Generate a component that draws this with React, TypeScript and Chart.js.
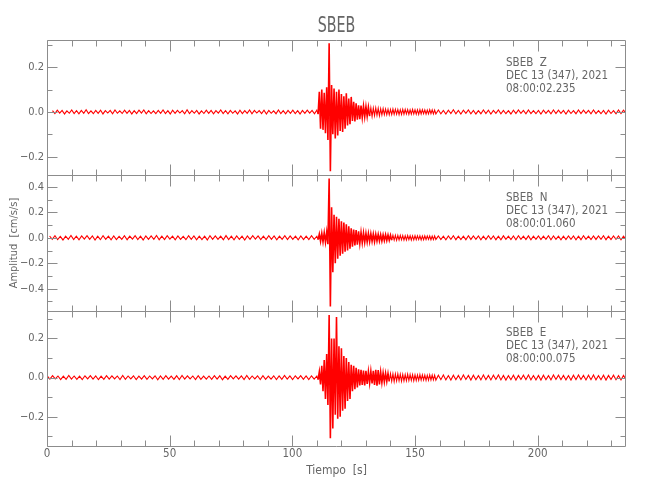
import React, { useEffect, useRef } from 'react';
import { Chart, registerables } from 'chart.js';

Chart.register(...registerables);

const FONT = "'DejaVu Sans Condensed', 'Liberation Sans Narrow', sans-serif";
const TEXT_COLOR = '#666666';
const AXIS_COLOR = '#8c8c8c';
const TRACE_COLOR = '#ff0000';

const TITLE = 'SBEB';
const X_TITLE = 'Tiempo  [s]';
const Y_TITLE = 'Amplitud  [cm/s/s]';
const X_MIN = 0;
const X_MAX = 236;
const X_MINOR_STEP = 10;
const X_MAJOR_STEP = 50;
const Y_MINOR_STEP = 0.1;
const Y_MAJOR_STEP = 0.2;

const STATION_LABELS = ['SBEB  Z', 'SBEB  N', 'SBEB  E'];
const DATE_LABEL = 'DEC 13 (347), 2021';
const START_LABELS = ['08:00:02.235', '08:00:01.060', '08:00:00.075'];
const START_OFFSETS = [2.235, 1.06, 0.075];

const Z_RANGE = [-0.283, 0.321];
const N_RANGE = [-0.572, 0.49];
const E_RANGE = [-0.35, 0.342];

const EVENT_START = 110;
const EVENT_STEP = 0.5;
const STRONG_MOTION = 0.02;

// ---------- Z component ----------
const zPre = [
  0.006, -0.007, 0.008, -0.005, 0.007, -0.009, 0.005, -0.006, 0.009, -0.007,
  0.006, -0.008, 0.007, -0.006, 0.010, -0.007, 0.005, -0.008, 0.007, -0.006,
  0.008, -0.009, 0.006, -0.005, 0.007, -0.008, 0.009, -0.006, 0.005, -0.007,
  0.008, -0.006, 0.007, -0.009, 0.006, -0.007, 0.008, -0.005, 0.009, -0.008,
  0.006, -0.007, 0.005, -0.008, 0.007, -0.006, 0.009, -0.007, 0.006, -0.009,
  0.008, -0.006, 0.007, -0.005, 0.006, -0.008, 0.010, -0.007, 0.006, -0.006,
  0.007, -0.009, 0.005, -0.007, 0.008, -0.006, 0.007, -0.008, 0.006, -0.005,
  0.009, -0.007, 0.006, -0.008, 0.007, -0.006, 0.005, -0.009, 0.008, -0.007,
  0.006, -0.006, 0.009, -0.008, 0.007, -0.005, 0.006, -0.007, 0.008, -0.009,
  0.007, -0.006, 0.005, -0.008, 0.009, -0.007, 0.006, -0.008, 0.007, -0.006,
  0.008, -0.007, 0.006, -0.009, 0.007, -0.006, 0.008, -0.005, 0.007, -0.008,
];
const zEvent = [
  0.008, -0.010, 0.090, -0.075, 0.100, -0.080, 0.085, -0.095, 0.110, -0.125,
  0.306, -0.265, 0.120, -0.100, 0.105, -0.118, 0.090, -0.105, 0.100, -0.085,
  0.080, -0.090, 0.070, -0.075, 0.083, -0.060, 0.060, -0.055, 0.067, -0.040,
  0.045, -0.042, 0.038, -0.035, 0.030, -0.032, 0.028, -0.025, 0.026, -0.022,
  0.024, -0.020, 0.022, -0.019, 0.018, -0.020, 0.017, -0.016, 0.018, -0.015,
  0.016, -0.017, 0.014, -0.013, 0.015, -0.012, 0.013, -0.012, 0.012, -0.013,
  0.011, -0.012, 0.013, -0.011, 0.012, -0.010, 0.011, -0.012, 0.010, -0.011,
  0.012, -0.010, 0.011, -0.009, 0.010, -0.011, 0.009, -0.010, 0.011, -0.009,
  0.010, -0.010, 0.009, -0.011, 0.010, -0.009, 0.010, -0.008, 0.009, -0.010,
  0.008, -0.009, 0.010, -0.008, 0.009, -0.009, 0.008, -0.009,
];
const zPost = [
  0.009, -0.008, 0.007, -0.009, 0.008, -0.007, 0.010, -0.008, 0.007, -0.009,
  0.008, -0.006, 0.009, -0.008, 0.007, -0.009, 0.006, -0.008, 0.009, -0.007,
  0.008, -0.009, 0.007, -0.006, 0.009, -0.008, 0.007, -0.008, 0.006, -0.009,
  0.008, -0.007, 0.009, -0.006, 0.007, -0.008, 0.009, -0.007, 0.006, -0.008,
  0.007, -0.009, 0.008, -0.006, 0.007, -0.008, 0.009, -0.007, 0.008, -0.006,
  0.007, -0.009, 0.008, -0.007, 0.006, -0.008, 0.009, -0.007, 0.008, -0.006,
  0.007, -0.008, 0.009, -0.007, 0.006, -0.008, 0.007, -0.009, 0.008, -0.007,
  0.006, -0.008, 0.009, -0.007, 0.008, -0.006,
];

// ---------- N component ----------
const nPre = [
  0.014, -0.012, 0.016, -0.015, 0.011, -0.017, 0.013, -0.012, 0.018, -0.014,
  0.012, -0.016, 0.015, -0.011, 0.017, -0.013, 0.014, -0.018, 0.012, -0.015,
  0.016, -0.012, 0.013, -0.016, 0.015, -0.014, 0.011, -0.013, 0.017, -0.015,
  0.013, -0.011, 0.016, -0.014, 0.012, -0.017, 0.015, -0.013, 0.014, -0.012,
  0.018, -0.015, 0.012, -0.014, 0.016, -0.011, 0.013, -0.016, 0.015, -0.013,
  0.011, -0.015, 0.017, -0.012, 0.014, -0.016, 0.013, -0.014, 0.012, -0.017,
  0.016, -0.013, 0.015, -0.012, 0.013, -0.015, 0.017, -0.014, 0.012, -0.016,
  0.014, -0.012, 0.013, -0.017, 0.015, -0.013, 0.016, -0.011, 0.014, -0.015,
  0.012, -0.014, 0.017, -0.013, 0.015, -0.016, 0.013, -0.012, 0.016, -0.014,
  0.015, -0.013, 0.012, -0.016, 0.014, -0.015, 0.013, -0.014, 0.016, -0.012,
];
const nEvent = [
  0.012, -0.014, 0.030, -0.028, 0.035, -0.032, 0.040, -0.035, 0.045, -0.050,
  0.465, -0.540, 0.240, -0.270, 0.180, -0.200, 0.165, -0.165, 0.150, -0.140,
  0.130, -0.125, 0.120, -0.110, 0.105, -0.100, 0.090, -0.085, 0.075, -0.070,
  0.065, -0.060, 0.060, -0.055, 0.050, -0.045, 0.042, -0.040, 0.038, -0.036,
  0.035, -0.032, 0.034, -0.030, 0.032, -0.028, 0.030, -0.031, 0.028, -0.026,
  0.027, -0.025, 0.024, -0.026, 0.023, -0.022, 0.024, -0.021, 0.022, -0.020,
  0.021, -0.019, 0.020, -0.018, 0.019, -0.020, 0.018, -0.017, 0.019, -0.016,
  0.017, -0.018, 0.016, -0.017, 0.018, -0.015, 0.016, -0.017, 0.015, -0.016,
  0.017, -0.015, 0.016, -0.014, 0.015, -0.016, 0.014, -0.015, 0.016, -0.014,
  0.015, -0.013, 0.014, -0.015, 0.013, -0.014, 0.015, -0.013,
];
const nPost = [
  0.015, -0.014, 0.013, -0.016, 0.014, -0.012, 0.016, -0.015, 0.013, -0.014,
  0.012, -0.015, 0.016, -0.013, 0.014, -0.012, 0.015, -0.016, 0.013, -0.014,
  0.016, -0.012, 0.014, -0.015, 0.013, -0.016, 0.015, -0.013, 0.012, -0.014,
  0.014, -0.015, 0.016, -0.012, 0.013, -0.014, 0.015, -0.016, 0.012, -0.013,
  0.015, -0.014, 0.013, -0.012, 0.016, -0.015, 0.014, -0.013, 0.012, -0.016,
  0.013, -0.014, 0.015, -0.012, 0.014, -0.016, 0.013, -0.015, 0.016, -0.013,
  0.012, -0.014, 0.015, -0.013, 0.014, -0.012, 0.016, -0.015, 0.013, -0.014,
  0.015, -0.012, 0.014, -0.016, 0.013, -0.014,
];

// ---------- E component ----------
const ePre = [
  0.009, -0.008, 0.010, -0.007, 0.008, -0.010, 0.007, -0.009, 0.011, -0.008,
  0.008, -0.009, 0.007, -0.010, 0.009, -0.007, 0.010, -0.008, 0.008, -0.011,
  0.007, -0.009, 0.010, -0.008, 0.009, -0.007, 0.008, -0.010, 0.011, -0.009,
  0.008, -0.007, 0.009, -0.010, 0.007, -0.008, 0.010, -0.009, 0.008, -0.007,
  0.009, -0.011, 0.008, -0.009, 0.010, -0.008, 0.007, -0.009, 0.009, -0.010,
  0.011, -0.008, 0.009, -0.007, 0.008, -0.010, 0.010, -0.009, 0.007, -0.008,
  0.008, -0.009, 0.010, -0.008, 0.009, -0.011, 0.007, -0.009, 0.010, -0.007,
  0.009, -0.008, 0.008, -0.010, 0.011, -0.009, 0.008, -0.007, 0.009, -0.010,
  0.010, -0.009, 0.007, -0.008, 0.009, -0.010, 0.008, -0.009, 0.011, -0.008,
  0.008, -0.010, 0.009, -0.007, 0.010, -0.009, 0.008, -0.010, 0.009, -0.008,
];
const eEvent = [
  0.008, -0.010, 0.030, -0.035, 0.060, -0.070, 0.090, -0.110, 0.120, -0.140,
  0.320, -0.310, 0.200, -0.260, 0.200, -0.190, 0.310, -0.210, 0.160, -0.200,
  0.150, -0.170, 0.110, -0.160, 0.100, -0.120, 0.080, -0.110, 0.065, -0.070,
  0.060, -0.060, 0.050, -0.050, 0.042, -0.040, 0.040, -0.038, 0.036, -0.040,
  0.035, -0.032, 0.030, -0.028, 0.032, -0.030, 0.035, -0.038, 0.040, -0.042,
  0.038, -0.035, 0.028, -0.026, 0.024, -0.022, 0.022, -0.020, 0.021, -0.019,
  0.020, -0.018, 0.019, -0.020, 0.018, -0.017, 0.019, -0.016, 0.017, -0.018,
  0.016, -0.017, 0.015, -0.016, 0.017, -0.015, 0.016, -0.014, 0.015, -0.016,
  0.014, -0.015, 0.013, -0.014, 0.015, -0.013, 0.014, -0.012, 0.013, -0.014,
  0.012, -0.013, 0.014, -0.012, 0.013, -0.012, 0.012, -0.013,
];
const ePost = [
  0.012, -0.011, 0.013, -0.012, 0.010, -0.013, 0.012, -0.011, 0.011, -0.012,
  0.013, -0.010, 0.011, -0.013, 0.012, -0.011, 0.010, -0.012, 0.013, -0.011,
  0.011, -0.012, 0.012, -0.010, 0.013, -0.012, 0.011, -0.013, 0.010, -0.011,
  0.012, -0.013, 0.011, -0.010, 0.012, -0.011, 0.013, -0.012, 0.010, -0.012,
  0.011, -0.013, 0.012, -0.011, 0.010, -0.012, 0.013, -0.010, 0.012, -0.011,
  0.011, -0.012, 0.010, -0.013, 0.012, -0.011, 0.013, -0.010, 0.011, -0.012,
  0.012, -0.011, 0.013, -0.012, 0.010, -0.011, 0.012, -0.013, 0.011, -0.010,
  0.012, -0.011, 0.010, -0.012, 0.011, -0.010,
];

function buildTrace(start: number, pre: number[], event: number[], post: number[]) {
  const pts: { x: number; y: number }[] = [];
  const preStep = (EVENT_START - start) / pre.length;
  pre.forEach((v, i) => pts.push({ x: start + i * preStep, y: v }));
  event.forEach((v, i) => pts.push({ x: EVENT_START + i * EVENT_STEP, y: v }));
  const evEnd = EVENT_START + (event.length - 1) * EVENT_STEP;
  const postStep = (X_MAX - evEnd) / post.length;
  post.forEach((v, i) => pts.push({ x: evEnd + (i + 1) * postStep, y: v }));
  return pts;
}

const isMultiple = (v: number, step: number) => Math.abs(v / step - Math.round(v / step)) < 1e-6;
const fmtY = (v: number) => {
  if (Math.abs(v) < 1e-9) return '0.0';
  const s = Math.abs(v).toFixed(1);
  return v < 0 ? '\u2212' + s : s;
};

function yScale(range: number[], withTitle: boolean) {
  return {
    type: 'linear',
    position: 'left',
    stack: 'seis',
    stackWeight: 1,
    min: range[0],
    max: range[1],
    offset: false,
    grid: { display: false, drawTicks: false },
    border: { display: false },
    ticks: {
      stepSize: Y_MINOR_STEP,
      includeBounds: false,
      autoSkip: false,
      padding: 3,
      color: TEXT_COLOR,
      font: { family: FONT, size: 11 },
      callback: (v: number) => (isMultiple(v, Y_MAJOR_STEP) ? fmtY(v) : ''),
    },
    title: withTitle
      ? { display: true, text: Y_TITLE, color: TEXT_COLOR, font: { family: FONT, size: 11 }, padding: 7.4 }
      : { display: false },
    afterFit: (s: any) => {
      s.width = 47;
    },
  };
}

const framePlugin = {
  id: 'seisFrame',
  afterDraw(chart: any) {
    const { ctx, chartArea, scales } = chart;
    const left = Math.round(chartArea.left) + 0.5;
    const right = Math.round(chartArea.right) - 0.5;
    const xs = scales.x;
    const panels = [scales.yZ, scales.yN, scales.yE];
    ctx.save();
    ctx.strokeStyle = AXIS_COLOR;
    ctx.lineWidth = 1;
    ctx.beginPath();
    panels.forEach((s: any) => {
      const top = Math.round(s.top) + 0.5;
      const bottom = Math.round(s.bottom) + 0.5;
      ctx.moveTo(left, top);
      ctx.lineTo(right, top);
      ctx.moveTo(left, bottom);
      ctx.lineTo(right, bottom);
      ctx.moveTo(left, top);
      ctx.lineTo(left, bottom);
      ctx.moveTo(right, top);
      ctx.lineTo(right, bottom);
      xs.ticks.forEach((t: any) => {
        const px = Math.round(xs.getPixelForValue(t.value)) + 0.5;
        const len = isMultiple(t.value, X_MAJOR_STEP) ? 11 : 6;
        ctx.moveTo(px, top);
        ctx.lineTo(px, top + len);
        ctx.moveTo(px, bottom);
        ctx.lineTo(px, bottom - len);
      });
      s.ticks.forEach((t: any) => {
        const py = Math.round(s.getPixelForValue(t.value)) + 0.5;
        const len = isMultiple(t.value, Y_MAJOR_STEP) ? 10 : 5;
        ctx.moveTo(left, py);
        ctx.lineTo(left + len, py);
        ctx.moveTo(right, py);
        ctx.lineTo(right - len, py);
      });
    });
    ctx.stroke();

    // panel annotations
    ctx.fillStyle = TEXT_COLOR;
    ctx.font = `11.5px ${FONT}`;
    ctx.textAlign = 'left';
    ctx.textBaseline = 'alphabetic';
    panels.forEach((s: any, i: number) => {
      const tx = chartArea.right - 120;
      ctx.fillText(STATION_LABELS[i], tx, s.top + 25.7);
      ctx.fillText(DATE_LABEL, tx, s.top + 38.5);
      ctx.fillText(START_LABELS[i], tx, s.top + 51.5);
    });

    // main title
    ctx.save();
    ctx.font = `22px ${FONT}`;
    ctx.textAlign = 'center';
    ctx.translate((chartArea.left + chartArea.right) / 2, 31.7);
    ctx.scale(0.72, 1);
    ctx.fillText(TITLE, 0, 0);
    ctx.restore();
    ctx.restore();
  },
};

export default function App() {
  const canvasRef = useRef<HTMLCanvasElement | null>(null);

  useEffect(() => {
    const canvas = canvasRef.current;
    if (!canvas) return;
    const traces = [
      buildTrace(START_OFFSETS[0], zPre, zEvent, zPost),
      buildTrace(START_OFFSETS[1], nPre, nEvent, nPost),
      buildTrace(START_OFFSETS[2], ePre, eEvent, ePost),
    ];
    const axisIds = ['yZ', 'yN', 'yE'];
    const chart = new Chart(canvas, {
      type: 'line',
      data: {
        datasets: traces.map((pts, i) => ({
          data: pts,
          yAxisID: axisIds[i],
          xAxisID: 'x',
          borderColor: TRACE_COLOR,
          borderWidth: 1.2,
          pointRadius: 0,
          fill: false,
          tension: 0,
          segment: {
            borderWidth: (c: any) =>
              Math.abs(c.p0.parsed.y) > STRONG_MOTION || Math.abs(c.p1.parsed.y) > STRONG_MOTION ? 1.6 : 1.1,
          },
        })),
      },
      options: {
        animation: false,
        responsive: false,
        events: [],
        layout: { padding: { top: 40, right: 24, left: 0, bottom: 0 } },
        plugins: { legend: { display: false }, tooltip: { enabled: false }, title: { display: false } },
        scales: {
          x: {
            type: 'linear',
            position: 'bottom',
            min: X_MIN,
            max: X_MAX,
            offset: false,
            grid: { display: false, drawTicks: false },
            border: { display: false },
            ticks: {
              stepSize: X_MINOR_STEP,
              includeBounds: false,
              autoSkip: false,
              maxRotation: 0,
              padding: 1,
              color: TEXT_COLOR,
              font: { family: FONT, size: 11.5 },
              callback: (v: number) => (isMultiple(v, X_MAJOR_STEP) ? String(Math.round(v)) : ''),
            },
            title: {
              display: true,
              text: X_TITLE,
              color: TEXT_COLOR,
              font: { family: FONT, size: 12 },
              padding: 21.8,
            },
            afterFit: (s: any) => {
              s.height = 54;
            },
          },
          // stacked axes: the last listed is placed at the top
          yE: yScale(E_RANGE, false),
          yN: yScale(N_RANGE, true),
          yZ: yScale(Z_RANGE, false),
        } as any,
      },
      plugins: [framePlugin],
    } as any);
    return () => chart.destroy();
  }, []);

  return (
    <div style={{ position: 'fixed', left: 0, top: 0, width: 650, height: 500, background: '#fff' }}>
      <canvas ref={canvasRef} width={650} height={500} style={{ display: 'block' }} />
    </div>
  );
}
